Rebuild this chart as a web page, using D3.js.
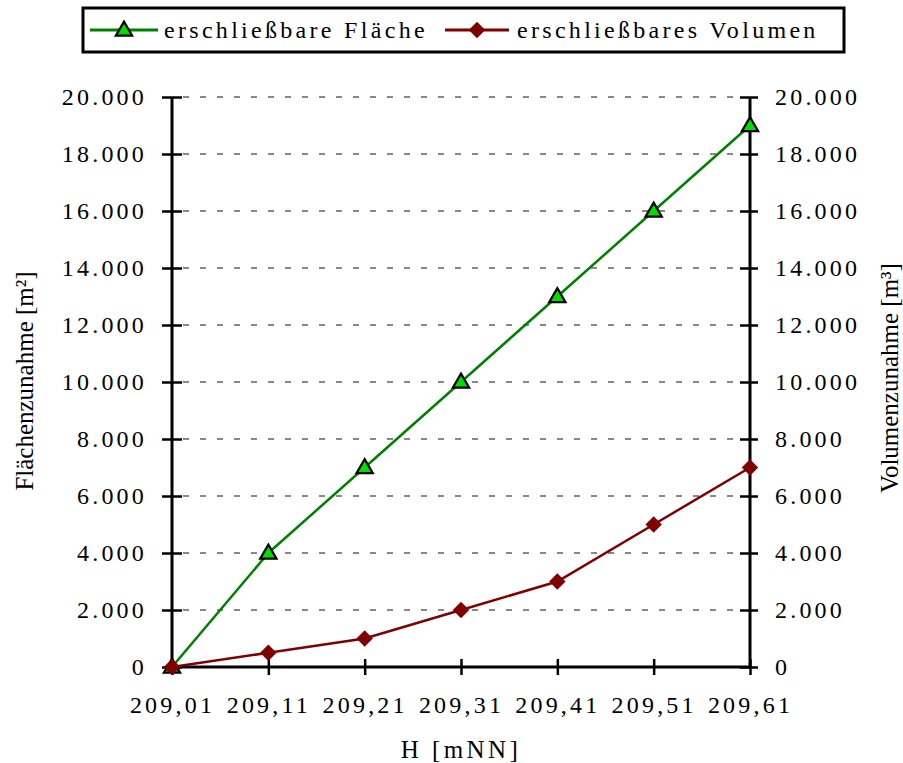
<!DOCTYPE html>
<html>
<head>
<meta charset="utf-8">
<script src="https://cdn.jsdelivr.net/npm/d3@7"></script>
<style>
  body { margin: 0; background: #fff; }
  text { font-family: "Liberation Serif", "Times New Roman", serif; fill: #000; }
</style>
</head>
<body>
<div id="chart"></div>
<script>
// chart data
const heights = ["209,01", "209,11", "209,21", "209,31", "209,41", "209,51", "209,61"];
const flaeche = [0, 4000, 7000, 10000, 13000, 16000, 19000];
const volumen = [0, 500, 1000, 2000, 3000, 5000, 7000];
const yTicks = [0, 2000, 4000, 6000, 8000, 10000, 12000, 14000, 16000, 18000, 20000];
const seriesNames = ["erschließbare Fläche", "erschließbares Volumen"];

const width = 903, height = 763;
const margin = {top: 97, right: 153, bottom: 96, left: 172};

const svg = d3.select('#chart')
    .append('svg')
    .attr('width', width)
    .attr('height', height);

const x = d3.scalePoint()
    .domain(heights)
    .range([margin.left, width - margin.right]);

const yLeft = d3.scaleLinear()
    .domain([0, 20000])
    .range([height - margin.bottom, margin.top]);
const yRight = yLeft.copy();

const fmt = v => v === 0 ? "0" : d3.format(",")(v).replace(/,/g, ".");

// gridlines
svg.append('g')
    .selectAll('line')
    .data(yTicks.filter(d => d > 0))
    .join('line')
    .attr('x1', margin.left + 11)
    .attr('x2', width - margin.right - 9)
    .attr('y1', d => yLeft(d))
    .attr('y2', d => yLeft(d))
    .attr('stroke', '#888')
    .attr('stroke-width', 2)
    .attr('stroke-dasharray', '6,11');

// axes
function styleAxis(g){
    g.attr('font-family', null);
    g.select('.domain').remove();
    g.selectAll('.tick line').attr('stroke', '#000').attr('stroke-width', 2.5);
    g.selectAll('.tick text')
        .attr('fill', '#000')
        .style('font-size', '24px')
        .style('letter-spacing', '3.2px');
}

const gl = svg.append('g')
    .attr('transform', `translate(${margin.left},0)`)
    .call(d3.axisLeft(yLeft).tickValues(yTicks).tickFormat(fmt).tickSize(10).tickPadding(15))
    .call(styleAxis);
gl.selectAll('.tick line').attr('x1', 10).attr('x2', -10);

const gr = svg.append('g')
    .attr('transform', `translate(${width - margin.right},0)`)
    .call(d3.axisRight(yRight).tickValues(yTicks).tickFormat(fmt).tickSize(8).tickPadding(17))
    .call(styleAxis);
gr.selectAll('.tick line').attr('x1', -10).attr('x2', 8);

const gb = svg.append('g')
    .attr('transform', `translate(0,${height - margin.bottom})`)
    .call(d3.axisBottom(x).tickSize(8))
    .call(styleAxis);
gb.selectAll('.tick line').attr('y1', -8).attr('y2', 8);
gb.selectAll('.tick text').attr('y', 46).attr('dy', 0);

// axis lines
svg.append('line')
    .attr('x1', margin.left).attr('x2', margin.left)
    .attr('y1', margin.top).attr('y2', height - margin.bottom)
    .attr('stroke', '#000').attr('stroke-width', 3);
svg.append('line')
    .attr('x1', width - margin.right).attr('x2', width - margin.right)
    .attr('y1', margin.top).attr('y2', height - margin.bottom)
    .attr('stroke', '#000').attr('stroke-width', 3);
svg.append('line')
    .attr('x1', margin.left).attr('x2', width - margin.right)
    .attr('y1', height - margin.bottom).attr('y2', height - margin.bottom)
    .attr('stroke', '#000').attr('stroke-width', 3);

// axis titles
svg.append('text')
    .attr('transform', `translate(33,381) rotate(-90)`)
    .attr('text-anchor', 'middle')
    .style('font-size', '25px')
    .text('Flächenzunahme [m²]');
svg.append('text')
    .attr('transform', `translate(898,378) rotate(-90)`)
    .attr('text-anchor', 'middle')
    .style('font-size', '25px')
    .text('Volumenzunahme [m³]');
svg.append('text')
    .attr('x', (margin.left + width - margin.right) / 2)
    .attr('y', 758)
    .attr('text-anchor', 'middle')
    .style('font-size', '25px')
    .style('letter-spacing', '3.4px')
    .text('H [mNN]');

// series
const lineF = d3.line().x((d, i) => x(heights[i])).y(d => yLeft(d));
const lineV = d3.line().x((d, i) => x(heights[i])).y(d => yRight(d));

const triangle = d3.symbol().type(d3.symbolTriangle).size(115);
const diamond = d3.symbol().type(d3.symbolSquare).size(135);

svg.append('path')
    .datum(flaeche)
    .attr('d', lineF)
    .attr('fill', 'none')
    .attr('stroke', '#008000')
    .attr('stroke-width', 2.5);
svg.append('g')
    .selectAll('path')
    .data(flaeche)
    .join('path')
    .attr('d', triangle)
    .attr('transform', (d, i) => `translate(${x(heights[i])},${yLeft(d) + 1})`)
    .attr('fill', '#00e000')
    .attr('stroke', '#000')
    .attr('stroke-width', 2.2);

svg.append('path')
    .datum(volumen)
    .attr('d', lineV)
    .attr('fill', 'none')
    .attr('stroke', '#800000')
    .attr('stroke-width', 2.5);
svg.append('g')
    .selectAll('path')
    .data(volumen)
    .join('path')
    .attr('d', diamond)
    .attr('transform', (d, i) => `translate(${x(heights[i])},${yRight(d)}) rotate(45)`)
    .attr('fill', '#800000');

// legend
const legend = svg.append('g');
legend.append('rect')
    .attr('x', 83).attr('y', 8)
    .attr('width', 761).attr('height', 44)
    .attr('fill', '#fff')
    .attr('stroke', '#000')
    .attr('stroke-width', 3);

const legendItems = [
    {name: seriesNames[0], x0: 90, x1: 158, tx: 164, color: '#008000'},
    {name: seriesNames[1], x0: 445, x1: 509, tx: 517, color: '#800000'}
];
legendItems.forEach((it, i) => {
    legend.append('line')
        .attr('x1', it.x0).attr('x2', it.x1)
        .attr('y1', 30).attr('y2', 30)
        .attr('stroke', it.color).attr('stroke-width', 3);
    const cx = (it.x0 + it.x1) / 2;
    if (i === 0) {
        legend.append('path')
            .attr('d', triangle)
            .attr('transform', `translate(${cx},31)`)
            .attr('fill', '#00e000').attr('stroke', '#000').attr('stroke-width', 2.2);
    } else {
        legend.append('path')
            .attr('d', diamond)
            .attr('transform', `translate(${cx},30) rotate(45)`)
            .attr('fill', '#800000');
    }
    legend.append('text')
        .attr('x', it.tx).attr('y', 38)
        .style('font-size', '24px')
        .style('letter-spacing', '3.3px')
        .text(it.name);
});
</script>
</body>
</html>
